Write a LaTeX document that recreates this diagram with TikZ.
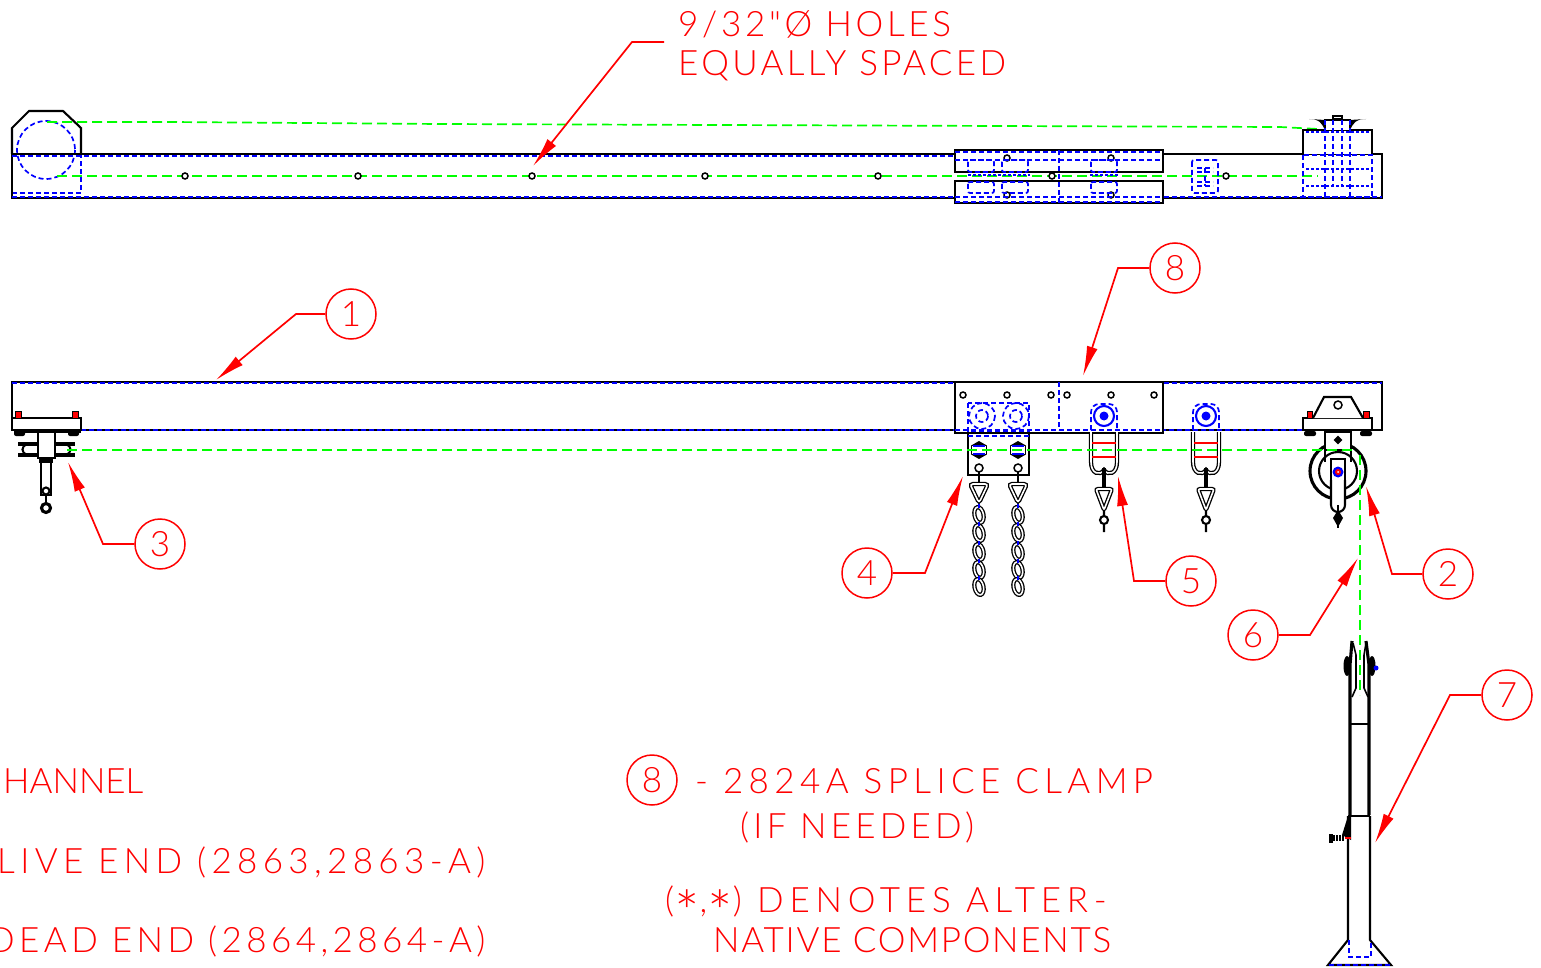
\documentclass[tikz,border=0pt]{standalone}
\usepackage{fontspec}
\newfontfamily\cadfont{Lato Light}
\newcommand{\cadstar}{\raisebox{-22pt}[0pt][0pt]{\fontsize{60}{60}\selectfont *}}
\usetikzlibrary{arrows.meta,shapes.geometric}
\begin{document}
\begin{tikzpicture}
[
    x=1pt, y=-1pt,
    steel/.style={draw=black, line width=2.1pt},
    heavy/.style={draw=black, line width=3.1pt},
    twin/.style={draw=black, double=white, line width=1.3pt, double distance=1.6pt},
    hidden/.style={draw=blue, line width=1.7pt, dash pattern=on 5pt off 3pt},
    dense/.style={draw=blue, line width=2.6pt, dash pattern=on 3pt off 2pt},
    cable/.style={draw=green, line width=1.7pt, dash pattern=on 10pt off 5pt},
    leader/.style={draw=red, line width=1.7pt, -{Latex[length=30pt,width=11pt]}},
    callout/.style={circle, draw=red, line width=1.5pt, minimum size=50pt, inner sep=0pt, text=red, font=\cadfont\fontsize{35}{35}\selectfont},
    note/.style={anchor=west, inner sep=0pt, text=red, font=\cadfont\fontsize{35}{35}\selectfont\addfontfeature{LetterSpace=#1}},
    note/.default=9.5,
    hole/.style={circle, draw=black, line width=1.5pt, fill=white, minimum size=6pt, inner sep=0pt},
    peg/.style={draw=black, fill=red, line width=1pt},
    bolthead/.style={regular polygon, regular polygon sides=6, fill=black, minimum size=18pt, inner sep=0pt},
    swivel/.pic={
        \draw[twin] (-13,-22) -- (-13,8) .. controls (-13,20) and (-4,22) .. (0,16) .. controls (4,22) and (13,20) .. (13,8) -- (13,-22);
        \draw[red, line width=2.4pt] (-12,-11) -- (12,-11) (-12,3) -- (12,3);
        \draw[heavy] (0,14) -- (0,36);
        \draw[twin, rounded corners=2pt] (-8,35) -- (8,35) -- (0,56) -- cycle;
        \draw[steel] (0,56) -- (0,62) (0,66) circle (4) (0,71) -- (0,78);
    },
    chainlink/.pic={
        \draw[twin, rotate=12] (0,0) ellipse (4.5 and 8);
        \draw[blue, line width=1.4pt] (0,-11) -- (0,-7);
    },
]
\useasboundingbox (0,0) rectangle (1541,968);

\node[note=10.5] (notea) at (678,24) {9/32"Ø HOLES};
\node[note] (noteb) at (678,66) {EQUALLY SPACED};
\node[note=0] (notec) at (3,781) {HANNEL};
\node[note=15.3] (noted) at (-3,862) {LIVE END (2863,2863-A)};
\node[note=12.7] (notee) at (-12,941) {DEAD END (2864,2864-A)};
\node[callout] (n8b) at (652,780) {8};
\node[note=15.4] (notef) at (695,781) {- 2824A SPLICE CLAMP};
\node[note=12] (noteg) at (740,827) {(IF NEEDED)};
\node[note=16.5] (noteh) at (665,901) {(\cadstar,\cadstar) DENOTES ALTER-};
\node[note=5] (notei) at (713,940) {NATIVE COMPONENTS};

\draw[steel] (12,154) -- (12,128) -- (29,111) -- (63,111) -- (81,128) -- (81,154);
\draw[hidden] (46,150) circle (29);
\draw[hidden] (12,193) -- (81,193) -- (81,155);
\draw[steel] (12,154) rectangle (1382,198);
\draw[hidden] (12,156) -- (955,156) (12,197) -- (1382,197);
\draw[cable] (47,122) -- (170,122) -- (440,124) -- (1280,127) -- (1318,129);
\draw[cable] (57,176) -- (1318,176);
\foreach \hx in {185,358,532,705,878,1052,1226}
    \node[hole] (top\hx) at (\hx,176) {};

\draw[heavy, line width=2.6pt, fill=white] (955,150) rectangle (1163,172);
\draw[heavy, line width=2.6pt, fill=white] (955,181) rectangle (1163,203);
\draw[dense] (968,175) -- (1030,175) (1090,175) -- (1118,175);
\foreach \hx in {1007,1111} {
    \node[hole] (ua\hx) at (\hx,158) {};
    \node[hole] (ub\hx) at (\hx,195) {};
}
\draw[hidden] (955,160) -- (1163,160) (955,197) -- (1163,197) (955,152) -- (1163,152) (955,202) -- (1163,202) (1059,150) -- (1059,203);
\foreach \hx in {968,1002,1091} {
    \draw[hidden, rounded corners=2pt] (\hx,160) rectangle ++(26,12);
    \draw[hidden, rounded corners=2pt] (\hx,182) rectangle ++(26,11);
}
\draw[hidden, rounded corners=2pt] (1192,160) rectangle (1218,193);
\draw[hidden] (1197,168) -- (1213,168) (1197,172) -- (1213,172) (1197,182) -- (1213,182) (1197,186) -- (1213,186) (1205,168) -- (1205,186);

\draw[steel, fill=white] (1303,154) -- (1303,130) -- (1372,130) -- (1372,154);
\draw[steel, fill=white] (1325,130) -- (1325,120) -- (1350,120) -- (1350,130);
\fill[black] (1309,119) .. controls (1320,119) and (1322,124) .. (1325,130) -- (1325,120) -- cycle;
\fill[black] (1366,119) .. controls (1355,119) and (1353,124) .. (1350,130) -- (1350,120) -- cycle;
\draw[steel, fill=white] (1333,119) rectangle (1342,116);
\draw[hidden] (1303,155) rectangle (1372,197);
\draw[hidden] (1325,120) -- (1325,197) (1333,120) -- (1333,185) (1342,120) -- (1342,185) (1350,120) -- (1350,197);
\draw[dense] (1306,132) -- (1370,132) (1306,169) -- (1370,169) (1306,186) -- (1370,186);

\draw[steel] (12,382) rectangle (1382,430);
\draw[hidden] (12,383) -- (1382,383) (81,430) -- (1303,430);

\draw[heavy, line width=2.6pt, fill=white] (955,382) rectangle (1163,433);
\draw[hidden] (955,430) -- (1163,430) (1059,382) -- (1059,430);
\foreach \hx in {963,1007,1051,1067,1111,1154}
    \node[hole] (side\hx) at (\hx,395) {};
\draw[hidden] (968,403) rectangle (1029,432);
\foreach \hx in {982,1016} {
    \draw[hidden] (\hx,416) circle (13);
    \draw[hidden] (\hx,416) circle (6);
}
\foreach \hx in {1104,1206} {
    \draw[hidden, rounded corners=8pt] (\hx-13,430) -- (\hx-13,404) -- (\hx+13,404) -- (\hx+13,430);
    \draw[blue, line width=2.1pt] (\hx,416) circle (10);
    \fill[blue] (\hx,416) circle (4.5);
    \pic at (\hx,454) {swivel};
}

\draw[steel] (968,433) rectangle (1029,475);
\draw[hidden] (968,436) -- (1029,436);
\foreach \hx in {979,1018} {
    \node[bolthead, rotate=90] (bolt\hx) at (\hx,450) {};
    \fill[white] (\hx-7,446) rectangle (\hx+7,454);
    \draw[blue, line width=1.6pt] (\hx-6,446) -- (\hx+6,446) (\hx-6,454) -- (\hx+6,454);
    \node[hole, minimum size=8pt] (eye\hx) at (\hx,468) {};
    \draw[steel] (\hx,472) -- (\hx,484);
    \draw[twin, rounded corners=3pt] (\hx-9,484) -- (\hx+9,484) -- (\hx,503) -- cycle;
    \foreach \hy in {515,533,552,570,587}
        \pic at (\hx,\hy) {chainlink};
}

\draw[steel, fill=white] (12,418) rectangle (81,430);
\draw[heavy, line width=3.6pt] (14,431) -- (81,431);
\draw[peg] (15,411) rectangle (21,418);
\draw[peg] (72,411) rectangle (78,418);
\fill[black, rounded corners=2pt] (14,431) rectangle (25,436);
\fill[black, rounded corners=2pt] (68,431) rectangle (79,436);
\draw[heavy] (18,444) -- (38,444) (18,455) -- (38,455) (55,444) -- (75,444) (55,455) -- (75,455);
\draw[steel] (27,444) .. controls (21,446) and (21,453) .. (27,455);
\draw[steel] (66,444) .. controls (72,446) and (72,453) .. (66,455);
\draw[steel, fill=white] (38,432) rectangle (55,458);
\draw[steel, fill=white] (41,458) rectangle (51,495);
\fill[black] (39,458) rectangle (53,463);
\draw[steel, fill=white] (46,491) circle (3.5);
\draw[steel] (46,495) -- (46,503);
\draw[heavy] (46,508) circle (4.5);

\fill[black, rounded corners=2pt] (1304,431) rectangle (1316,436);
\fill[black, rounded corners=2pt] (1360,431) rectangle (1372,436);
\draw[heavy, fill=white] (1338,471) circle (28);
\draw[steel] (1338,471) circle (19);
\draw[steel, fill=white] (1325,432) rectangle (1351,450);
\draw[steel] (1325,450) -- (1325,462) (1351,450) -- (1351,462);
\draw[steel, fill=white] (1331,459) rectangle (1345,482);
\draw[steel, fill=white] (1331,480) -- (1331,505) arc (180:0:7) -- (1345,480);
\node[diamond, fill=black, minimum size=9pt, inner sep=0pt] (dia) at (1338,440) {};
\fill[blue] (1338,472) circle (5.5);
\fill[red] (1338,472) circle (3);
\fill[white] (1338,472) circle (1);
\draw[steel] (1338,505) -- (1338,528);
\fill[black] (1338,510) -- (1343,518) -- (1338,527) -- (1333,518) -- cycle;
\draw[steel, fill=white] (1303,430) -- (1303,418) -- (1372,418) -- (1372,430) -- cycle;
\draw[steel, fill=white] (1313,418) -- (1324,397) -- (1351,397) -- (1363,418);
\node[hole, minimum size=8pt] (upeye) at (1338,405) {};
\draw[peg] (1307,411) rectangle (1312,418);
\draw[peg] (1363,411) rectangle (1369,418);

\draw[steel] (1348,816) -- (1348,940) -- (1328,965) -- (1391,965) -- (1370,940) -- (1370,816);
\draw[hidden] (1349,940) -- (1349,957) -- (1371,957) -- (1371,940) (1329,965) -- (1390,965);
\draw[heavy] (1352,641) -- (1350,665) -- (1350,815) (1366,641) -- (1369,665) -- (1369,815);
\draw[heavy, line width=2.4pt] (1348,816) -- (1370,816);
\draw[steel] (1351,724) -- (1368,724);
\draw[steel, line width=1.6pt] (1353,643) -- (1356,655) -- (1356,688) -- (1352,697) (1366,643) -- (1364,655) -- (1364,688) -- (1368,697);
\fill[black] (1347,666) ellipse (3.5 and 10);
\fill[black] (1372,666) ellipse (3.5 and 10);
\fill[blue] (1376,668) circle (2.5);
\fill[black] (1348,816) -- (1342,835) -- (1351,840) -- (1351,816) -- cycle;
\fill[black] (1329,834) rectangle (1333,843);
\draw[draw=black, line width=6pt, dash pattern=on 2pt off 1pt] (1333,838) -- (1345,838);
\draw[red, line width=1.6pt] (1345,838) -- (1351,838);

\draw[cable] (67,450) -- (1353,450);
\draw[cable] (1360,455) -- (1360,695);

\node[callout] (n1) at (351,314) {1};
\node[callout] (n2) at (1448,574) {2};
\node[callout] (n3) at (160,544) {3};
\node[callout] (n4) at (867,573) {4};
\node[callout] (n5) at (1191,581) {5};
\node[callout] (n6) at (1253,635) {6};
\node[callout] (n7) at (1507,695) {7};
\node[callout] (n8) at (1175,268) {8};

\coordinate (starth) at (664,42);
\coordinate (tiph) at (533,166);
\coordinate (tipa) at (216,380);
\coordinate (tipb) at (1366,486);
\coordinate (tipc) at (68,462);
\coordinate (tipd) at (963,476);
\coordinate (tipe) at (1118,476);
\coordinate (tipf) at (1358,558);
\coordinate (tipg) at (1375,843);
\coordinate (tipi) at (1083,376);

\draw[leader] (starth) -- (632,42) -- (tiph);
\draw[leader] (n1.west) -- (296,314) -- (tipa);
\draw[leader] (n2.west) -- (1392,574) -- (tipb);
\draw[leader] (n3.west) -- (103,544) -- (tipc);
\draw[leader] (n4.east) -- (925,573) -- (tipd);
\draw[leader] (n5.west) -- (1134,581) -- (tipe);
\draw[leader] (n6.east) -- (1310,635) -- (tipf);
\draw[leader] (n7.west) -- (1450,695) -- (tipg);
\draw[leader] (n8.west) -- (1118,268) -- (tipi);
\end{tikzpicture}
\end{document}
